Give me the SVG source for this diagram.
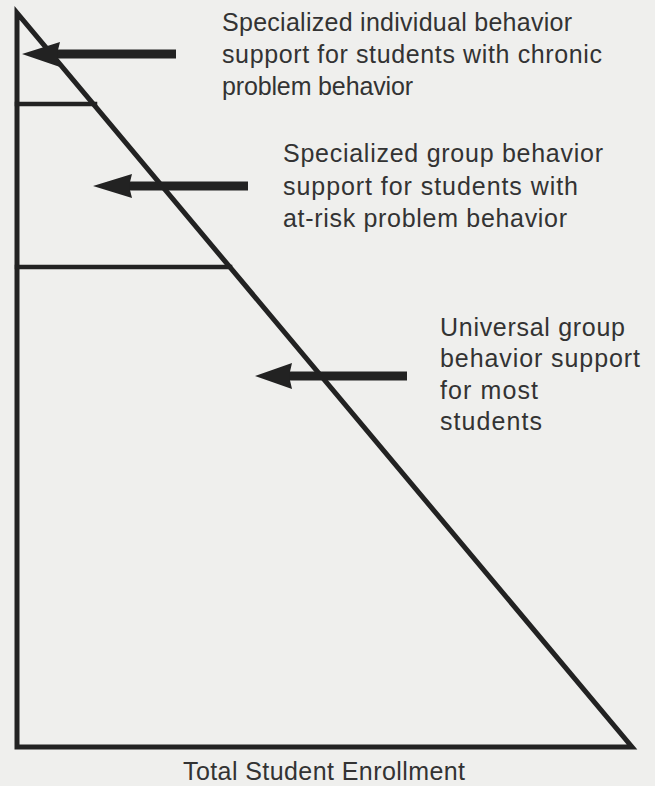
<svg xmlns="http://www.w3.org/2000/svg" width="655" height="786" viewBox="0 0 655 786">
  <style>
    .bg { fill: #efefed; }
    .edge { stroke: #222; fill: none; stroke-linecap: square; }
    .frame { stroke-width: 5; stroke-linejoin: miter; }
    .tier { stroke-width: 4.5; }
    .shaft { stroke: #222; stroke-width: 9; }
    .head { fill: #222; }
    .lbl { font-family: "Liberation Sans", Arial, Helvetica, sans-serif; font-size: 25px; fill: #333; }
  </style>
  <rect class="bg" x="0" y="0" width="655" height="786"/>

  <g id="pyramid">
    <path class="edge frame" d="M17,13 L17,747 L632,747 Z"/>
    <line class="edge tier" x1="17" y1="104" x2="95" y2="104"/>
    <line class="edge tier" x1="17" y1="267" x2="230" y2="267"/>
  </g>

  <g id="connectors">
    <line class="shaft" x1="56" y1="54" x2="176" y2="54"/>
    <polygon class="head" points="22,54 60,42 57,54 60,67"/>
    <line class="shaft" x1="128" y1="186" x2="248" y2="186"/>
    <polygon class="head" points="93,186 132,174 129,186 132,198"/>
    <line class="shaft" x1="288" y1="376" x2="407" y2="376"/>
    <polygon class="head" points="255,376 292,363 289,376 292,389"/>
  </g>

  <g id="label-individual">
    <text class="lbl" x="222" y="31" textLength="350" lengthAdjust="spacing">Specialized individual behavior</text>
    <text class="lbl" x="222" y="63" textLength="380" lengthAdjust="spacing">support for students with chronic</text>
    <text class="lbl" x="222" y="95" textLength="191" lengthAdjust="spacing">problem behavior</text>
  </g>

  <g id="label-group">
    <text class="lbl" x="283" y="162" textLength="320" lengthAdjust="spacing">Specialized group behavior</text>
    <text class="lbl" x="283" y="195" textLength="295" lengthAdjust="spacing">support for students with</text>
    <text class="lbl" x="283" y="227" textLength="284" lengthAdjust="spacing">at-risk problem behavior</text>
  </g>

  <g id="label-universal">
    <text class="lbl" x="440" y="336" textLength="185" lengthAdjust="spacing">Universal group</text>
    <text class="lbl" x="440" y="367" textLength="200" lengthAdjust="spacing">behavior support</text>
    <text class="lbl" x="440" y="399" textLength="98" lengthAdjust="spacing">for most</text>
    <text class="lbl" x="440" y="430" textLength="102" lengthAdjust="spacing">students</text>
  </g>

  <g id="axis-label">
    <text class="lbl" x="183" y="780" font-size="22" textLength="282" lengthAdjust="spacing">Total Student Enrollment</text>
  </g>
</svg>
